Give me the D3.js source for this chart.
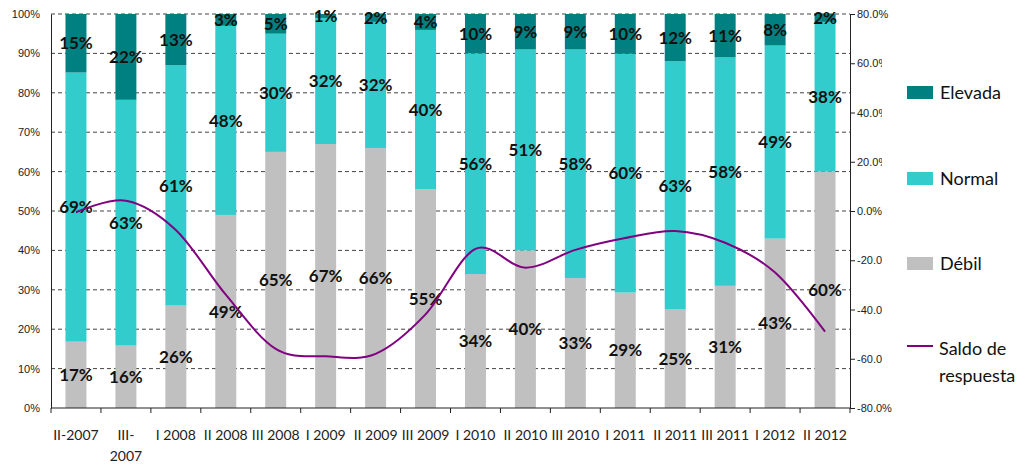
<!DOCTYPE html>
<html><head><meta charset="utf-8">
<script src="https://cdn.jsdelivr.net/npm/d3@7"></script>
<style>
body{margin:0;background:#fff;}
svg{display:block;}
text{font-family:Lato,"Open Sans",sans-serif;}
</style></head>
<body><svg id="c" width="1028" height="466"></svg>
<script>
const categories = ["II-2007","III-2007","I 2008","II 2008","III 2008","I 2009","II 2009","III 2009","I 2010","II 2010","III 2010","I 2011","II 2011","III 2011","I 2012","II 2012"];
const debil   = [17,16,26,49,65,67,66,55,34,40,33,29,25,31,43,60];
const normal  = [69,63,61,48,30,32,32,40,56,51,58,60,63,58,49,38];
const elevada = [15,22,13,3,5,1,2,4,10,9,9,10,12,11,8,2];
const saldo   = [-0.5,4.2,-7.7,-34,-56,-59,-58,-42,-15.4,-23,-15.8,-11,-8.1,-12.9,-25,-49];
const leftTicks = [0,0.1,0.2,0.3,0.4,0.5,0.6,0.7,0.8,0.9,1];
const rightTicks = [-80,-60,-40,-20,0,20,40,60,80];
const seriesNames = ["Débil","Normal","Elevada"];
const colors = {"Débil":"#C0C0C0","Normal":"#33CCCC","Elevada":"#008080"};
const lineColor = "#800080";

const svg = d3.select("#c");
const L = 51, R = 850, T = 14, B = 408;

const x = d3.scaleBand().domain(categories).range([L,R]).paddingInner(0.58).paddingOuter(0.29);
const y = d3.scaleLinear().domain([0,1]).range([B,T]);
const y2 = d3.scaleLinear().domain([-80,80]).range([B,T]);

// gridlines
svg.append("g").selectAll("line").data(leftTicks.filter(d=>d>0)).join("line")
  .attr("x1",L).attr("x2",R).attr("y1",d=>y(d)).attr("y2",d=>y(d))
  .attr("stroke","#444").attr("stroke-width",1).attr("stroke-dasharray","4,3");

// stacked data
const rows = categories.map((c,i)=>({cat:c,"Débil":debil[i],"Normal":normal[i],"Elevada":elevada[i]}));
const stack = d3.stack().keys(seriesNames).offset(d3.stackOffsetExpand);
const layers = stack(rows);

const g = svg.append("g");
layers.forEach(layer=>{
  g.selectAll(null).data(layer).join("rect")
    .attr("x",d=>x(d.data.cat)).attr("width",x.bandwidth())
    .attr("y",d=>y(d[1])).attr("height",d=>y(d[0])-y(d[1]))
    .attr("fill",colors[layer.key]);
});

// axes
const leftAxis = d3.axisLeft(y).tickValues(leftTicks).tickFormat(d3.format(".0%")).tickSize(0).tickPadding(11);
const ga = svg.append("g").attr("transform",`translate(${L},0)`).call(leftAxis);
ga.select(".domain").attr("stroke","#222");
ga.selectAll("text").style("font-family","'Liberation Sans',Arial,sans-serif").style("font-size","11px").attr("fill","#222");

const rightAxis = d3.axisRight(y2).tickValues(rightTicks).tickFormat(d=>d.toFixed(1)+"%").tickSize(5).tickPadding(2);
const gr = svg.append("g").attr("transform",`translate(${R},0)`).call(rightAxis);
gr.select(".domain").attr("stroke","#222");
gr.selectAll("line").attr("stroke","#222");
gr.selectAll("text").style("font-family","'Liberation Sans',Arial,sans-serif").style("font-size","11px").attr("fill","#222");
const defs = svg.append("defs");
defs.append("clipPath").attr("id","rclip2").attr("clipPathUnits","userSpaceOnUse")
  .append("rect").attr("x",-10).attr("y",-20).attr("width",42).attr("height",40);
gr.selectAll(".tick").filter(d=>d!==80 && d!==-80).attr("clip-path","url(#rclip2)");

// bottom axis
const gb = svg.append("g").attr("transform",`translate(0,${B})`);
gb.append("line").attr("x1",L).attr("x2",R).attr("stroke","#222");
const step = x.step();
const bounds = categories.map(c=>x(c) - x.paddingInner()*step/2).concat([R]);
gb.selectAll("line.tk").data(bounds).join("line").attr("class","tk")
  .attr("x1",d=>d).attr("x2",d=>d).attr("y1",0).attr("y2",5).attr("stroke","#222");
const bottomAxis = d3.axisBottom(x).tickSize(0).tickPadding(0);
const gbl = svg.append("g").attr("transform",`translate(0,${B})`).call(bottomAxis);
gbl.select(".domain").remove();
gbl.selectAll("text").style("font-family","Lato,sans-serif").style("font-size","14px").attr("fill","#222")
  .attr("y",32).attr("dy",null)
  .each(function(d){
    const t = d3.select(this);
    if (this.getComputedTextLength() > step - 4 && d.indexOf("-")>=0){
      const parts = [d.slice(0,d.indexOf("-")+1), d.slice(d.indexOf("-")+1)];
      t.text(null);
      parts.forEach((p,i)=>t.append("tspan").attr("x",0).attr("y",32+i*21).text(p));
    }
  });

// labels
const lg = svg.append("g");
layers.forEach((layer,li)=>{
  const raw = [debil,normal,elevada][li];
  lg.selectAll(null).data(layer).join("text")
    .attr("x",d=>x(d.data.cat)+x.bandwidth()/2)
    .attr("y",d=>(y(d[0])+y(d[1]))/2)
    .attr("text-anchor","middle").attr("dy","0.36em")
    .style("font-size","17px").style("font-weight","700").attr("fill","#111")
    .text((d,i)=>raw[i]+"%");
});

// line
const line = d3.line().x((d,i)=>x(categories[i])+x.bandwidth()/2).y(d=>y2(d)).curve(d3.curveCardinal.tension(0));
svg.append("path").datum(saldo).attr("d",line).attr("fill","none").attr("stroke",lineColor).attr("stroke-width",2);

// legend
const leg = svg.append("g");
const legItems = [
  {name:"Elevada",y:86},{name:"Normal",y:172},{name:"Débil",y:257}
];
legItems.forEach(it=>{
  leg.append("rect").attr("x",907).attr("y",it.y).attr("width",26).attr("height",13).attr("fill",colors[it.name]);
  leg.append("text").attr("x",940).attr("y",it.y+13).style("font-size","18px").attr("fill","#111").text(it.name);
});
leg.append("line").attr("x1",907).attr("x2",933).attr("y1",346).attr("y2",346).attr("stroke",lineColor).attr("stroke-width",2);
const st = leg.append("text").style("font-size","18px").attr("fill","#111");
st.append("tspan").attr("x",939).attr("y",355).text("Saldo de");
st.append("tspan").attr("x",939).attr("y",382).text("respuesta");
</script></body></html>
